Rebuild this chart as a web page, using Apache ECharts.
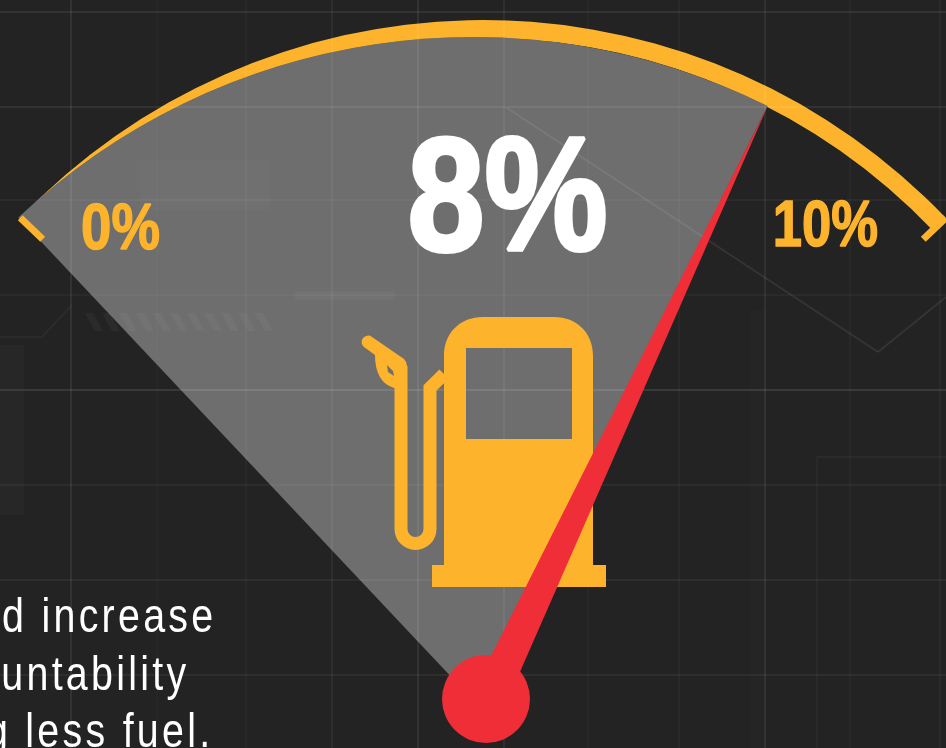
<!DOCTYPE html>
<html>
<head>
<meta charset="utf-8">
<script src="https://cdn.jsdelivr.net/npm/echarts@6/dist/echarts.min.js"></script>
<style>
html,body{margin:0;padding:0;background:#232323;overflow:hidden}
#chart{position:absolute;left:0;top:0;width:946px;height:748px}
.cap{position:absolute;white-space:nowrap;color:#fff;font-family:"Liberation Sans",sans-serif;font-size:48px;letter-spacing:4px;line-height:50px;transform:scaleX(.82);transform-origin:100% 50%}
</style>
</head>
<body>
<div id="chart"></div>
<div class="cap" id="c0"></div>
<div class="cap" id="c1"></div>
<div class="cap" id="c2"></div>
<script>
var gaugeValue = [8];
var gaugeMin = 0;
var gaugeMax = 10;
var tickLabels = ['0%', '10%'];
var captionLines = ['d increase', 'untability', 'g less fuel.'];

var YEL = '#FDB42C', RED = '#EF2E38', BG = '#232323';
var FONT = '"Liberation Sans",sans-serif';

['c0','c1','c2'].forEach(function(id,i){
  var el = document.getElementById(id);
  el.textContent = captionLines[i];
  el.style.right = (946 - [216,189,213][i]) + 'px';
  el.style.top = [591,649,706][i] + 'px';
});

var chart = echarts.init(document.getElementById('chart'), null, {renderer:'canvas'});

function line(x1,y1,x2,y2,op,w){
  return {type:'line',silent:true,z:4,
    shape:{x1:x1,y1:y1,x2:x2,y2:y2},
    style:{stroke:'rgba(255,255,255,'+op+')',lineWidth:w||1.5,shadowBlur:4,shadowColor:'rgba(255,255,255,'+op+')'}};
}
function rect(x,y,w,h,op){
  return {type:'rect',silent:true,z:4,shape:{x:x,y:y,width:w,height:h},style:{fill:'rgba(255,255,255,'+op+')',shadowBlur:8,shadowColor:'rgba(255,255,255,'+op+')'}};
}
var deco = [];
[[12,.07],[107,.07],[200,.04],[295,.035],[390,.10],[485,.045],[580,.05],[675,.05]].forEach(function(h){deco.push(line(0,h[0],946,h[0],h[1],2));});
[[71,.10],[157,.025],[246,.045],[332,.07],[418,.10],[504,.08],[588,.035],[679,.045],[765,.09],[850,.045],[940,.05]].forEach(function(v){deco.push(line(v[0],0,v[0],748,v[1],1.5));});
deco.push(line(507,108,878,352,.08,2), line(878,352,946,297,.08,2), line(0,337,42,337,.035,2), line(42,337,72,305,.035,2));
deco.push(line(817,457,946,457,.035,2), line(817,457,817,748,.03,2));
deco.push(rect(0,345,24,170,.02), rect(750,310,16,440,.012), rect(295,291,100,9,.035), rect(140,160,130,50,.018));
for (var i=0;i<11;i++){
  deco.push({type:'polygon',silent:true,z:4,shape:{points:[[85+i*17,313],[93+i*17,313],[103+i*17,331],[95+i*17,331]]},style:{fill:'rgba(255,255,255,.04)'}});
}

function txt(cx,cy,t,col,size,sx,sw){
  return {type:'text',silent:true,z:6,x:cx,y:cy,scaleX:sx,
    style:{x:0,y:0,text:t,fill:col,stroke:col,lineWidth:sw,font:'bold '+size+'px '+FONT,textAlign:'center',textVerticalAlign:'middle'}};
}
var labels = [
  txt(120.5,231,tickLabels[0],YEL,65,.84,1.5),
  txt(825.5,228,tickLabels[1],YEL,65,.81,1.5),
  txt(507.5,206,gaugeValue[0]+'%','#fff',161,.86,4)
];

function renderPump(){
  return {type:'group',children:[
    {type:'path',shape:{pathData:'M444 565 L444 356 C444 333 460 317 483 317 L554 317 C577 317 593 333 593 356 L593 565 L606 565 L606 587 L432 587 L432 565 Z M466 348 L466 439 L572 439 L572 348 Z'},style:{fill:YEL}},
    {type:'path',shape:{pathData:'M444 374 L430 388 L430 529 A14.5 14.5 0 0 1 401 529 L401 366'},style:{fill:'none',stroke:YEL,lineWidth:13}},
    {type:'path',shape:{pathData:'M364 347 A6 6 0 0 1 372 337 L404 359 Q407 362 407 366 L407 390 L394 388 Q375 382 375 355 Z M387 365 L388 372 L394 376 L393 371 Z'},style:{fill:YEL}}
  ]};
}

var wedge = function(col,z){
  return {type:'pie',z:z,silent:true,animation:false,center:[473,700],radius:[0,663],startAngle:133.3,endAngle:46.2,
    label:{show:false},labelLine:{show:false},itemStyle:{borderWidth:0},
    data:[{value:gaugeValue[0],itemStyle:{color:col}},{value:gaugeMax-gaugeValue[0],itemStyle:{color:'rgba(0,0,0,0)'}}]};
};
var hiddenGauge = {axisLine:{show:false},axisTick:{show:false},splitLine:{show:false},axisLabel:{show:false},pointer:{show:false},anchor:{show:false},title:{show:false},detail:{show:false}};

chart.setOption({
  backgroundColor: BG,
  animation:false,
  graphic:{elements:deco.concat(labels)},
  series:[
    Object.assign({},hiddenGauge,{type:'gauge',z:2,silent:true,min:gaugeMin,max:gaugeMax,splitNumber:1,center:[483,660],radius:640,startAngle:136.3,endAngle:43.7,
      axisLine:{show:true,lineStyle:{width:18,color:[[1,YEL]]}},data:gaugeValue.slice()}),
    wedge(BG,3),
    wedge('rgba(255,255,255,0.34)',5),
    {type:'custom',coordinateSystem:'none',z:6,silent:true,data:[0],renderItem:renderPump},
    Object.assign({},hiddenGauge,{type:'gauge',z:7,silent:true,min:gaugeMin,max:gaugeMax,splitNumber:1,center:[483,660],radius:640,startAngle:136.3,endAngle:43.7,
      axisLine:{show:false,lineStyle:{width:18}},
      splitLine:{show:true,distance:-18,length:31,lineStyle:{color:YEL,width:7,cap:'butt'}},data:gaugeValue.slice()}),
    Object.assign({},hiddenGauge,{type:'gauge',z:8,silent:true,min:gaugeMin,max:gaugeMax,center:[489,699],radius:656,startAngle:133.3,endAngle:47.7,
      pointer:{show:true,icon:'triangle',width:35,length:656,offsetCenter:[0,0],itemStyle:{color:RED}},
      anchor:{show:true,showAbove:true,size:88,icon:'circle',offsetCenter:[-3,0],itemStyle:{color:RED,borderWidth:0}},
      data:gaugeValue.slice()})
  ]
});
</script>
</body>
</html>
